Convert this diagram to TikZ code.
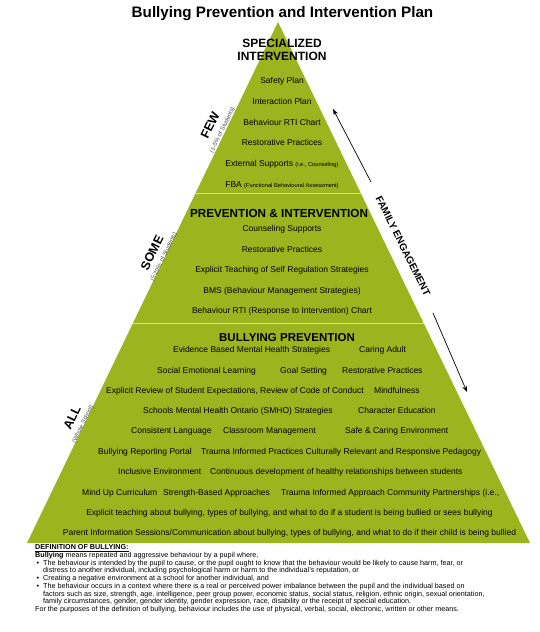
\documentclass[tikz,border=0pt]{standalone}
\usepackage{fontspec}
\setmainfont{Liberation Sans}
\usetikzlibrary{arrows.meta, positioning, calc}
\definecolor{cPyramid}{RGB}{156,180,30}
\definecolor{cDivider}{RGB}{214,224,150}
\tikzset{
	tier/.style    ={font=\fontsize{8.5}{9}\selectfont, inner sep=0pt, anchor=mid},
	tierrow/.style ={font=\fontsize{8.5}{9}\selectfont, inner sep=0pt, anchor=mid west},
	heading/.style ={font=\bfseries\fontsize{12}{13}\selectfont, inner sep=0pt, anchor=base},
	reach/.style   ={font=\bfseries\fontsize{12.5}{13}\selectfont, inner sep=0pt, rotate=64},
	share/.style   ={font=\fontsize{6}{7}\selectfont, inner sep=0pt, rotate=64, text=black!70},
	divider/.style ={draw=cDivider, line width=0.8pt},
	famarrow/.style={-{Stealth[length=2.2mm, width=1.6mm]}, line width=0.7pt},
}
\newcommand{\smallpar}[1]{{\fontsize{5.7}{6}\selectfont #1}}
\newcommand{\defbullet}{\hspace*{1.5pt}\makebox[6.5pt][l]{\textbullet}}

\begin{document}
\begin{tikzpicture}[x=1pt, y=-1pt]
	\fill[white] (0,0) rectangle (540,632);
	\useasboundingbox (0,0) rectangle (540,632);
	\node[font=\bfseries\fontsize{15.2}{16}\selectfont, inner sep=0pt, anchor=base] (title) at (282.5,17) {Bullying Prevention and Intervention Plan};
	% pyramid and tiers
	\coordinate (apex) at (278,22);
	\coordinate (bl) at (27,543);
	\coordinate (br) at (530,543);
	\fill[cPyramid] (apex) -- (br) -- (bl) -- cycle;
	\draw[divider] ($(apex)!0.329!(bl)$) -- ($(apex)!0.329!(br)$);
	\draw[divider] ($(apex)!0.578!(bl)$) -- ($(apex)!0.578!(br)$);
	% specialized intervention
	\node[heading] (spec1) at (282,47) {SPECIALIZED};
	\node[heading] (spec2) at (282,60) {INTERVENTION};
	\foreach \t [count=\i] in {Safety Plan, Interaction Plan, Behaviour RTI Chart, Restorative Practices,
		{External Supports \smallpar{(i.e., Counseling)}}, {FBA \smallpar{(Functional Behavioural Assessment)}}}
		\node[tier] (few\i) at (282,60+20.8*\i) {\t};
	% prevention & intervention
	\node[heading, font=\bfseries\fontsize{11.7}{13}\selectfont] (prevint) at (279,217) {PREVENTION \& INTERVENTION};
	\foreach \t [count=\i] in {Counseling Supports, Restorative Practices, Explicit Teaching of Self Regulation Strategies,
		BMS (Behaviour Management Strategies), Behaviour RTI (Response to Intervention) Chart}
		\node[tier] (some\i) at (282,208.5+20.5*\i) {\t};
	% bullying prevention
	\node[heading, font=\bfseries\fontsize{11.5}{13}\selectfont] (bullprev) at (287,341) {BULLYING PREVENTION};
	\node[tierrow] (evidence) at (173,350) {Evidence Based Mental Health Strategies};
	\node[tierrow] (caring) at (359,350) {Caring Adult};
	\node[tierrow] (sel) at (157,371) {Social Emotional Learning};
	\node[tierrow] (goal) at (280,371) {Goal Setting};
	\node[tierrow] (restor) at (342,371) {Restorative Practices};
	\node[tierrow] (review) at (106,391) {Explicit Review of Student Expectations, Review of Code of Conduct};
	\node[tierrow] (mindful) at (374,391) {Mindfulness};
	\node[tierrow] (smho) at (143,411) {Schools Mental Health Ontario (SMHO) Strategies};
	\node[tierrow] (character) at (358,411) {Character Education};
	\node[tierrow] (language) at (131,431) {Consistent Language};
	\node[tierrow] (classroom) at (223,431) {Classroom Management};
	\node[tierrow] (safe) at (345,431) {Safe \& Caring Environment};
	\node[tierrow] (portal) at (98,452) {Bullying Reporting Portal};
	\node[tierrow] (trauma) at (201,452) {Trauma Informed Practices Culturally Relevant and Responsive Pedagogy};
	\node[tierrow] (inclusive) at (118,472) {Inclusive Environment};
	\node[tierrow] (healthy) at (210,472) {Continuous development of healthy relationships between students};
	\node[tierrow] (mindup) at (82,493) {Mind Up Curriculum};
	\node[tierrow] (strength) at (163,493) {Strength-Based Approaches};
	\node[tierrow] (community) at (281,493) {Trauma Informed Approach Community Partnerships (i.e.,};
	\node[tier] (teaching) at (289.5,513) {Explicit teaching about bullying, types of bullying, and what to do if a student is being bullied or sees bullying};
	\node[tier] (parent) at (289.5,533) {Parent Information Sessions/Communication about bullying, types of bullying, and what to do if their child is being bullied};
	% reach labels
	\node[reach] (few) at (210,125) {FEW};
	\node[share] (fewpct) at (222.5,130) {(1-5\% of Students)};
	\node[reach] (some) at (152,253) {SOME};
	\node[share] (somepct) at (164,257) {(5-20\% of Students)};
	\node[reach] (all) at (72,418) {ALL};
	\node[share] (allpct) at (83,424) {(Whole School)};
	% family engagement
	\node[font=\bfseries\fontsize{10}{11}\selectfont, inner sep=0pt, rotate=-63.5] (family) at (403,246) {FAMILY ENGAGEMENT};
	\coordinate (famtail1) at (371,182);
	\coordinate (famhead1) at (333,109);
	\coordinate (famtail2) at (433,313);
	\coordinate (famhead2) at (467,392);
	\draw[famarrow] (famtail1) -- (famhead1);
	\draw[famarrow] (famtail2) -- (famhead2);
	% definition
	\node[font=\fontsize{7.2}{6.5}\selectfont, inner sep=0pt, anchor=north west, align=left] (definition) at (35,544) {%
		\underline{\textbf{DEFINITION OF BULLYING:}}\\
		\textbf{Bullying} means repeated and aggressive behaviour by a pupil where,\\
		\defbullet The behaviour is intended by the pupil to cause, or the pupil ought to know that the behaviour would be likely to cause harm, fear, or\\
		\hspace*{8pt}distress to another individual, including psychological harm or harm to the individual's reputation, or\\
		\defbullet Creating a negative environment at a school for another individual, and\\
		\defbullet The behaviour occurs in a context where there is a real or perceived power imbalance between the pupil and the individual based on\\
		\hspace*{8pt}factors such as size, strength, age, intelligence, peer group power, economic status, social status, religion, ethnic origin, sexual orientation,\\
		\hspace*{8pt}family circumstances, gender, gender identity, gender expression, race, disability or the receipt of special education.\\
		For the purposes of the definition of bullying, behaviour includes the use of physical, verbal, social, electronic, written or other means.};
\end{tikzpicture}
\end{document}
